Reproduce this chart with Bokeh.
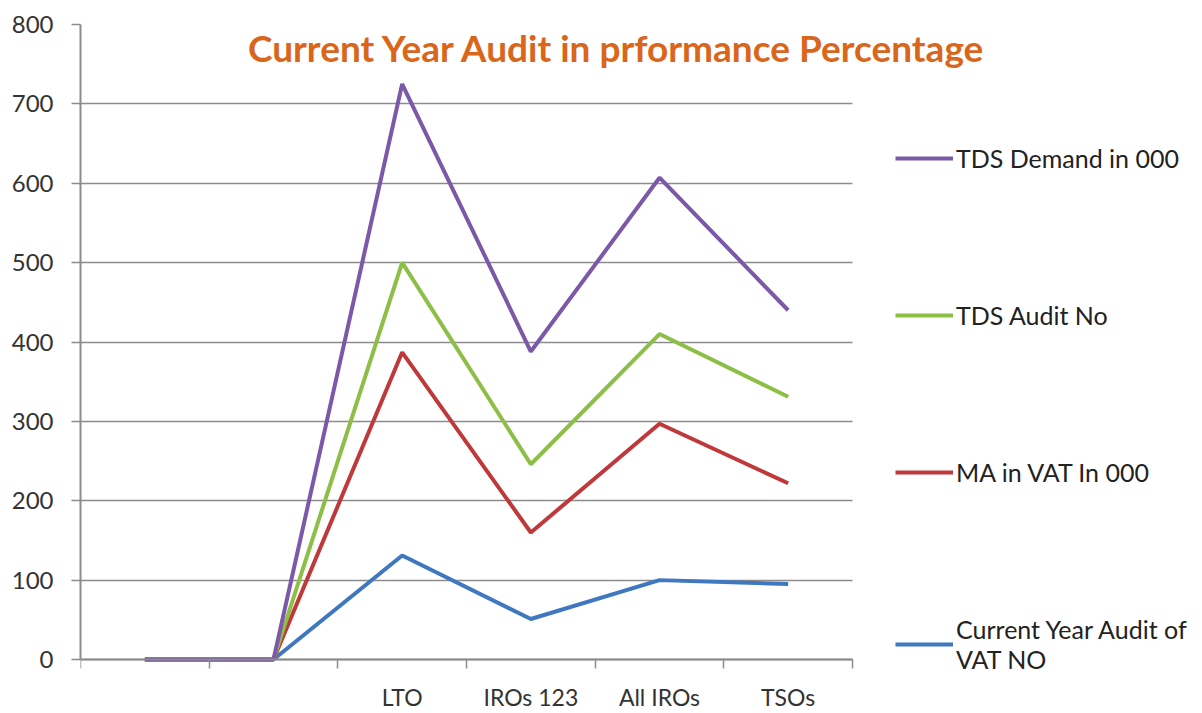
from bokeh.plotting import figure
from bokeh.models import Range1d, FixedTicker, Legend, LegendItem, Label
from bokeh.embed import file_html
from bokeh.resources import INLINE

categories = ["", "", "LTO", "IROs 123", "All IROs", "TSOs"]
tds_demand = [0, 0, 725, 388, 607, 440]
tds_audit = [0, 0, 500, 246, 410, 331]
ma_vat = [0, 0, 387, 160, 297, 222]
cy_audit_vat = [0, 0, 131, 51, 100, 95]
y_ticks = [0, 100, 200, 300, 400, 500, 600, 700, 800]
title_text = "Current Year Audit in prformance Percentage"

names = ["TDS Demand in 000", "TDS Audit No", "MA in VAT In 000", "Current Year Audit of\nVAT NO"]
values = [tds_demand, tds_audit, ma_vat, cy_audit_vat]
colors = ["#7B58A8", "#8DBE45", "#C0393A", "#3F78C0"]

n = len(categories)
xs = [i + 0.5 for i in range(n)]
grid_col = "#8C8C8C"
FONT = "Lato"

W, H = 1200, 712
LEFT, TOP = 80, 24
PLOT_W, PLOT_H = 772, 635          # width of the category area / height of 0..800
ymax = y_ticks[-1]
px_per_unit = PLOT_H / ymax
y_start = -(H - TOP - PLOT_H) / px_per_unit
x_end = n * (W - LEFT) / PLOT_W

p = figure(width=W, height=H, x_range=Range1d(0, x_end), y_range=Range1d(y_start, ymax),
           output_backend="svg", toolbar_location=None,
           min_border_left=LEFT, min_border_right=0, min_border_top=TOP, min_border_bottom=0)
p.outline_line_color = None
p.xgrid.visible = False
p.ygrid.grid_line_color = grid_col
p.ygrid.grid_line_width = 1.5
p.ygrid.bounds = (0, ymax)
p.ygrid.cross_bounds = (0, n)
p.background_fill_color = "white"
p.border_fill_color = "white"

p.yaxis.ticker = FixedTicker(ticks=y_ticks, minor_ticks=[])
p.yaxis.bounds = (0, ymax)
p.yaxis.axis_line_color = grid_col
p.yaxis.axis_line_width = 2
p.yaxis.major_tick_line_color = grid_col
p.yaxis.major_tick_line_width = 1.5
p.yaxis.major_tick_out = 9
p.yaxis.major_tick_in = 0
p.yaxis.minor_tick_line_color = None
p.yaxis.major_label_text_font = FONT
p.yaxis.major_label_text_font_size = "24px"
p.yaxis.major_label_text_color = "#333333"
p.yaxis.major_label_standoff = 18

p.xaxis.fixed_location = 0
p.xaxis.bounds = (0, n)
p.xaxis.ticker = FixedTicker(ticks=xs, minor_ticks=list(range(n + 1)))
p.xaxis.major_label_overrides = {x: c for x, c in zip(xs, categories)}
p.xaxis.axis_line_color = grid_col
p.xaxis.axis_line_width = 2
p.xaxis.major_tick_line_color = None
p.xaxis.major_tick_out = 0
p.xaxis.major_tick_in = 0
p.xaxis.minor_tick_line_color = grid_col
p.xaxis.minor_tick_line_width = 1.5
p.xaxis.minor_tick_out = 9
p.xaxis.minor_tick_in = 0
p.xaxis.major_label_text_font = FONT
p.xaxis.major_label_text_font_size = "23px"
p.xaxis.major_label_text_color = "#333333"
p.xaxis.major_label_standoff = 14

renderers = {}
for name, vals, col in reversed(list(zip(names, values, colors))):
    renderers[name] = p.line(xs, vals, line_color=col, line_width=4)

items = [LegendItem(label=nm, renderers=[renderers[nm]]) for nm in names]
legend = Legend(items=items, location=(815, 38), orientation="vertical",
                glyph_width=58, glyph_height=24, label_height=24, label_standoff=3,
                spacing=127, padding=0, margin=0, border_line_color=None,
                background_fill_alpha=0, label_text_font=FONT,
                label_text_font_size="25px", label_text_color="#222222",
                label_text_line_height=1.55)
p.add_layout(legend, "center")

p.add_layout(Label(x=4.173, y=771, text=title_text, text_font=FONT, text_font_style="bold",
                   text_font_size="37px", text_color="#D9661A", text_align="center",
                   text_baseline="middle"))

open("out.html", "w").write(file_html(p, INLINE))
